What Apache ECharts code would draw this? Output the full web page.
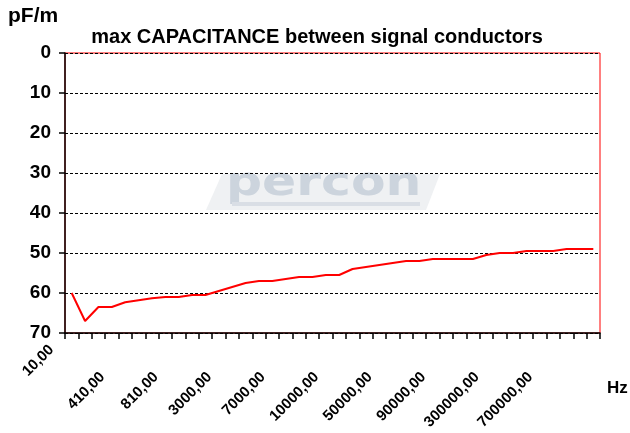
<!DOCTYPE html>
<html>
<head>
<meta charset="utf-8">
<script src="https://cdn.jsdelivr.net/npm/echarts@6/dist/echarts.min.js"></script>
<style>
html,body{margin:0;padding:0;background:#fff;}
#chart{width:630px;height:433px;}
</style>
</head>
<body>
<div id="chart"></div>
<script>
// Frequency categories (Hz)
const categories = [
  '10,00','110,00','210,00','310,00','410,00','510,00','610,00','710,00','810,00','910,00',
  '1000,00','2000,00','3000,00','4000,00','5000,00','6000,00','7000,00','8000,00','9000,00','9500,00',
  '10000,00','20000,00','30000,00','40000,00','50000,00','60000,00','70000,00','80000,00','90000,00','100000,00',
  '150000,00','200000,00','300000,00','400000,00','500000,00','600000,00','700000,00','800000,00','900000,00','1000000,00'
];
// max capacitance between signal conductors (pF/m)
const capacitance = [
  60, 67, 63.5, 63.5, 62.3, 61.8, 61.3, 61, 61, 60.5,
  60.5, 59.5, 58.5, 57.5, 57, 57, 56.5, 56, 56, 55.5,
  55.5, 54, 53.5, 53, 52.5, 52, 52, 51.5, 51.5, 51.5,
  51.5, 50.5, 50, 50, 49.5, 49.5, 49.5, 49, 49, 49
];
const yTicks = { min: 0, max: 70, interval: 10 };

const FONT = 'Liberation Sans, Arial, sans-serif';
const chart = echarts.init(document.getElementById('chart'), null, { renderer: 'canvas' });

chart.setOption({
  animation: false,
  backgroundColor: '#ffffff',
  title: [
    { text: 'max CAPACITANCE between signal conductors', left: 317, top: 27, textAlign: 'center', padding: 0,
      textStyle: { fontFamily: FONT, fontWeight: 'bold', fontSize: 20, color: '#000' } },
    { text: 'pF/m', left: 8, top: 6, padding: 0,
      textStyle: { fontFamily: FONT, fontWeight: 'bold', fontSize: 21, color: '#000' } },
    { text: 'Hz', left: 607, top: 380, padding: 0,
      textStyle: { fontFamily: FONT, fontWeight: 'bold', fontSize: 17, color: '#000' } }
  ],
  graphic: [
    { type: 'polygon', silent: true, z: -1,
      shape: { points: [[206, 210], [222, 174], [440, 174], [426, 210]] },
      style: { fill: '#eff1f3' } },
    { type: 'text', x: 226, y: 165, scaleX: 1.26, silent: true, z: 0,
      style: { text: 'percon', fontFamily: 'DejaVu Sans, sans-serif', fontWeight: 'bold', fontSize: 40,
               fill: '#ccd4dd' } },
    { type: 'rect', x: 232, y: 202, silent: true, z: 0,
      shape: { width: 188, height: 4 }, style: { fill: '#d9dee5' } }
  ],
  grid: { left: 65, right: 30, top: 53, bottom: 100, show: true, borderColor: '#ff0000', borderWidth: 1, backgroundColor: 'transparent' },
  xAxis: {
    type: 'category',
    position: 'bottom',
    data: categories,
    boundaryGap: true,
    axisLine: { show: true, onZero: false, lineStyle: { color: '#000', width: 1.5 } },
    axisTick: { show: true, interval: 0, length: 6, lineStyle: { color: '#000', width: 1.5 } },
    axisLabel: {
      interval: 3, rotate: 45, margin: 19,
      formatter: function (v, i) { return i === 0 ? '{f|' + v + '}' : '{a|' + v + '}'; },
      rich: {
        a: { fontFamily: FONT, fontWeight: 'bold', fontSize: 15, color: '#000', padding: [0, 32, 0, 0] },
        f: { fontFamily: FONT, fontWeight: 'bold', fontSize: 15, color: '#000', padding: [0, 11, 35, 0] }
      }
    },
    splitLine: { show: false }
  },
  yAxis: {
    type: 'value',
    inverse: true,
    min: yTicks.min, max: yTicks.max, interval: yTicks.interval,
    axisLine: { show: true, lineStyle: { color: '#000', width: 1.5 } },
    axisTick: { show: true, length: 6, lineStyle: { color: '#000', width: 1.5 } },
    axisLabel: { margin: 14, fontFamily: FONT, fontWeight: 'bold', fontSize: 19, color: '#000' },
    splitLine: { show: true, lineStyle: { color: '#000', width: 1, type: [3, 2] } }
  },
  series: [{
    type: 'line',
    data: capacitance,
    symbol: 'none',
    lineStyle: { color: '#ff0000', width: 2 },
    itemStyle: { color: '#ff0000' }
  }]
});
</script>
</body>
</html>
